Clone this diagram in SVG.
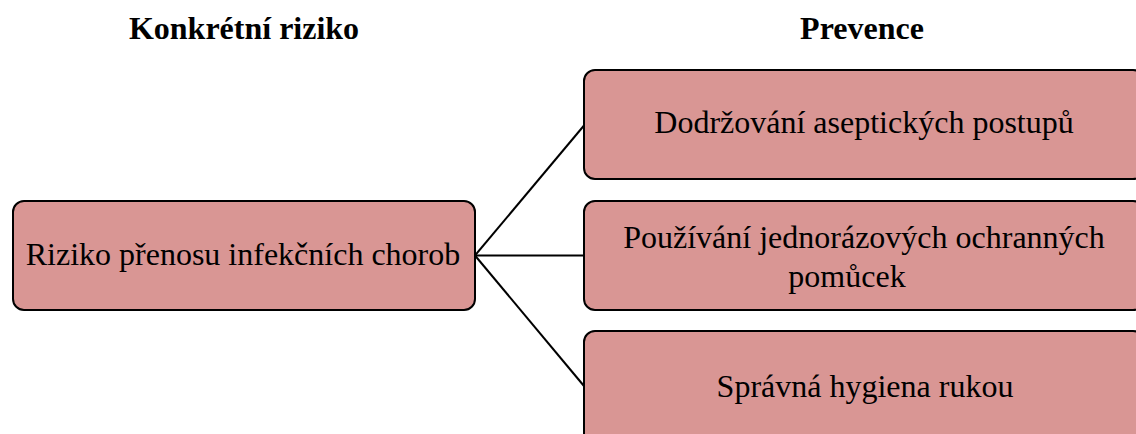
<svg xmlns="http://www.w3.org/2000/svg" width="1136" height="434" viewBox="0 0 1136 434">
  <style>
    .box { fill: #D99694; stroke: #000; stroke-width: 2; }
    .lbl { font-family: 'Liberation Serif', 'Times New Roman', serif; font-size: 32px; fill: #000; text-anchor: middle; }
    .head { font-family: 'Liberation Serif', 'Times New Roman', serif; font-size: 32px; font-weight: bold; fill: #000; text-anchor: middle; }
    .link { stroke: #000; stroke-width: 2; fill: none; }
  </style>
  <rect width="1136" height="434" fill="#fff"/>

  <!-- column headings -->
  <g id="headings">
    <text class="head" x="244" y="39">Konkrétní riziko</text>
    <text class="head" x="862" y="39">Prevence</text>
  </g>

  <!-- connectors fanning out from the risk box -->
  <g id="connectors">
    <line class="link" x1="475" y1="255.5" x2="584" y2="125.5"/>
    <line class="link" x1="475" y1="255.5" x2="584" y2="255.5"/>
    <line class="link" x1="475" y1="255.5" x2="584" y2="386"/>
  </g>

  <g id="risk">
    <rect class="box" x="13" y="201" width="462" height="109" rx="11"/>
    <text class="lbl" x="243" y="265">Riziko přenosu infekčních chorob</text>
  </g>

  <g id="prev-asepse">
    <rect class="box" x="584" y="70" width="560" height="109" rx="11"/>
    <text class="lbl" x="864" y="133">Dodržování aseptických postupů</text>
  </g>

  <g id="prev-pomucky">
    <rect class="box" x="584" y="201" width="560" height="109" rx="11"/>
    <text class="lbl" x="864" y="248">Používání jednorázových ochranných</text>
    <text class="lbl" x="847" y="287">pomůcek</text>
  </g>

  <g id="prev-hygiena">
    <rect class="box" x="584" y="331" width="560" height="115" rx="11"/>
    <text class="lbl" x="865" y="397">Správná hygiena rukou</text>
  </g>
</svg>
